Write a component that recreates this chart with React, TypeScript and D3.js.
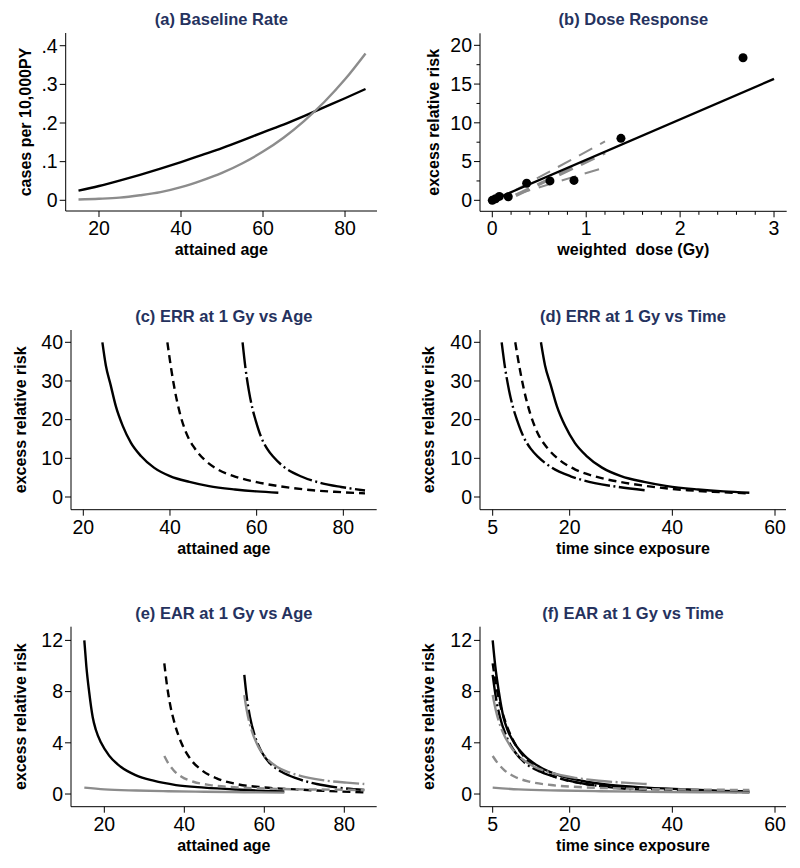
import React from "react";
import * as d3 from "d3";

const NAVY = "#25325e";
const GRAY = "#8c8c8c";
const BLACK = "#000";
const SHORTDASH = "8,5";
const DASHDOT = "26,3.5,2,3.5";
const LONGDASH = "15,9";
const FONT = "'Liberation Sans', Arial, sans-serif";

// (a) baseline rate by attained age
const ageA = [15, 20, 25, 30, 35, 40, 45, 50, 55, 60, 65, 70, 75, 80, 85];
const rateBlack = [0.025, 0.037, 0.051, 0.066, 0.082, 0.099, 0.117, 0.135, 0.155, 0.176, 0.196, 0.218, 0.241, 0.264, 0.288];
const rateGray = [0.002, 0.004, 0.007, 0.013, 0.021, 0.034, 0.051, 0.071, 0.096, 0.126, 0.162, 0.205, 0.255, 0.313, 0.38];

// (b) dose response
const doseObs = [0.0, 0.035, 0.075, 0.17, 0.366, 0.614, 0.87, 1.37, 2.67];
const errObs = [0.0, 0.2, 0.5, 0.46, 2.2, 2.5, 2.57, 8.0, 18.4];
const fitDose = [0, 3];
const fitErr = [0, 15.67];
const ciDose = [0.25, 1.2];
const ciUpper = [1.34, 7.6];
const ciMid = [0.64, 6.14];
const ciLower = [0.76, 4.25];

// exposure ages for solid, dashed, dash-dot curves
const exposureAges = [10, 30, 50];

// ERR at 1 Gy by time since exposure
const errT10 = [14.4, 15.2, 16.3, 17.5, 19.1, 21, 23.3, 26.3, 30, 34.5, 39, 45, 50, 55];
const err10 = [40, 34, 29, 23.5, 18.4, 14, 10.6, 7.6, 5.4, 3.9, 2.8, 1.95, 1.45, 1.1];
const errT30 = [9.4, 10.2, 11.1, 12.3, 13.7, 15.7, 18, 21.1, 25, 30, 35.5, 43, 48, 55];
const err30 = [40, 33.7, 27.7, 21.6, 16.7, 12.6, 9.6, 7.1, 5.3, 3.85, 2.75, 1.75, 1.35, 0.95];
const errT50 = [6.75, 7.4, 8.2, 9.0, 9.8, 11, 12.4, 14, 16.5, 20.3, 24.9, 29.5, 35];
const err50 = [40, 33.5, 27.5, 23.0, 19.7, 15.6, 12.5, 10.2, 7.6, 5.3, 3.6, 2.6, 1.7];

// EAR at 1 Gy by time since exposure (black)
const earT10 = [5, 5.5, 6.2, 7.1, 7.9, 9.2, 11.2, 14.1, 17.8, 22.3, 27.9, 35, 43, 50, 55];
const ear10 = [12.0, 10.0, 8.0, 6.0, 5.0, 4.0, 3.0, 2.13, 1.48, 1.04, 0.7, 0.5, 0.35, 0.25, 0.2];
const earT30 = [5, 5.6, 6.4, 7.7, 9.3, 11.4, 14.3, 18.1, 23.1, 29.75, 38.1, 46.4, 55];
const ear30 = [10.2, 8.65, 7.08, 5.39, 3.96, 2.79, 1.875, 1.22, 0.78, 0.52, 0.36, 0.23, 0.13];
const earT50 = [5, 5.6, 6.4, 7.7, 9.3, 11.4, 14.3, 18.1, 23.1, 28.1, 35];
const ear50 = [9.3, 7.6, 6.04, 4.48, 3.3, 2.4, 1.74, 1.22, 0.78, 0.52, 0.31];

// EAR at 1 Gy by time since exposure (gray)
const earGT10 = [5, 10, 18, 26, 35, 45, 55];
const earG10 = [0.5, 0.36, 0.27, 0.22, 0.18, 0.14, 0.11];
const earGT30 = [5, 6, 7.25, 9.3, 12.25, 16.4, 23.1, 31.4, 39.75, 48.1, 55];
const earG30 = [2.97, 2.4, 1.875, 1.35, 0.96, 0.7, 0.52, 0.42, 0.36, 0.34, 0.31];
const earGT50 = [5, 5.6, 6.8, 8.5, 10.6, 13.1, 16.4, 20.6, 25.6, 30.6, 35];
const earG50 = [7.73, 6.56, 5.0, 3.7, 2.79, 2.13, 1.67, 1.3, 1.04, 0.89, 0.78];

// tick values and labels
const ageTicks = [20, 40, 60, 80];
const timeTicks = [5, 20, 40, 60];
const rateTicks = [0, 0.1, 0.2, 0.3, 0.4];
const rateLabels = ["0", ".1", ".2", ".3", ".4"];
const doseTicks = [0, 1, 2, 3];
const doseMinor = [0.2, 0.4, 0.6, 0.8, 1.2, 1.4, 1.6, 1.8, 2.2, 2.4, 2.6, 2.8];
const drTicks = [0, 5, 10, 15, 20];
const drMinor = [2.5, 7.5, 12.5, 17.5];
const errTicks = [0, 10, 20, 30, 40];
const earTicks = [0, 4, 8, 12];

type Scale = d3.ScaleLinear<number, number>;

interface PanelCfg {
  title: string;
  xTitle: string;
  yTitle: string;
  left: number;
  right: number;
  top: number;
  bottom: number;
  xDomain: [number, number];
  yDomain: [number, number];
  xTicks: number[];
  yTicks: number[];
  yLabels?: string[];
  xMinor?: number[];
  yMinor?: number[];
  yTitleOffset: number;
}

const zip = (xs: number[], ys: number[], shift = 0): [number, number][] =>
  xs.map((v, i) => [v + shift, ys[i]]);

function Curve({ pts, x, y, color, dash, width = 2.4 }: {
  pts: [number, number][]; x: Scale; y: Scale; color: string; dash?: string; width?: number;
}) {
  const line = d3.line<[number, number]>()
    .x((d) => x(d[0]))
    .y((d) => y(d[1]))
    .curve(d3.curveMonotoneX);
  return <path d={line(pts) || ""} fill="none" stroke={color} strokeWidth={width}
    strokeDasharray={dash} strokeLinecap="butt" />;
}

function Panel({ cfg, children }: { cfg: PanelCfg; children: (x: Scale, y: Scale) => React.ReactNode }) {
  const x = d3.scaleLinear().domain(cfg.xDomain).range([cfg.left, cfg.right]);
  const y = d3.scaleLinear().domain(cfg.yDomain).range([cfg.bottom, cfg.top]);
  const midX = (cfg.left + cfg.right) / 2;
  const midY = (cfg.top + cfg.bottom) / 2;
  return (
    <g>
      <text x={midX} y={cfg.top - 8} textAnchor="middle" fontFamily={FONT} fontWeight="bold"
        fontSize={16.5} fill={NAVY}>{cfg.title}</text>
      {children(x, y)}
      <line x1={cfg.left} x2={cfg.right} y1={cfg.bottom} y2={cfg.bottom} stroke="#000" strokeWidth={1} />
      <line x1={cfg.left} x2={cfg.left} y1={cfg.top} y2={cfg.bottom} stroke="#000" strokeWidth={1} />
      {cfg.xTicks.map((t) => (
        <g key={"xt" + t}>
          <line x1={x(t)} x2={x(t)} y1={cfg.bottom} y2={cfg.bottom + 6} stroke="#000" />
          <text x={x(t)} y={cfg.bottom + 24} textAnchor="middle" fontFamily={FONT} fontSize={19.5}>{t}</text>
        </g>
      ))}
      {(cfg.xMinor || []).map((t) => (
        <line key={"xm" + t} x1={x(t)} x2={x(t)} y1={cfg.bottom} y2={cfg.bottom + 3.5} stroke="#000" />
      ))}
      {cfg.yTicks.map((t, i) => (
        <g key={"yt" + t}>
          <line x1={cfg.left - 6} x2={cfg.left} y1={y(t)} y2={y(t)} stroke="#000" />
          <text x={cfg.left - 8} y={y(t)} dy="0.35em" textAnchor="end" fontFamily={FONT} fontSize={19.5}>
            {cfg.yLabels ? cfg.yLabels[i] : t}
          </text>
        </g>
      ))}
      {(cfg.yMinor || []).map((t) => (
        <line key={"ym" + t} x1={cfg.left - 3.5} x2={cfg.left} y1={y(t)} y2={y(t)} stroke="#000" />
      ))}
      <text x={midX} y={cfg.bottom + 44} textAnchor="middle" fontFamily={FONT} fontWeight="bold"
        fontSize={16} style={{ whiteSpace: "pre" }}>{cfg.xTitle}</text>
      <text transform={`translate(${cfg.left - cfg.yTitleOffset},${midY}) rotate(-90)`} dy="0.35em"
        textAnchor="middle" fontFamily={FONT} fontWeight="bold" fontSize={16}>{cfg.yTitle}</text>
    </g>
  );
}

const panelA: PanelCfg = {
  title: "(a) Baseline Rate", xTitle: "attained age", yTitle: "cases per 10,000PY",
  left: 65.7, right: 377, top: 33, bottom: 211,
  xDomain: [11.88, 87.8], yDomain: [-0.0277, 0.4329],
  xTicks: ageTicks, yTicks: rateTicks, yLabels: rateLabels, yTitleOffset: 40.7,
};
const panelB: PanelCfg = {
  title: "(b) Dose Response", xTitle: "weighted  dose (Gy)", yTitle: "excess relative risk",
  left: 480, right: 786.7, top: 33.3, bottom: 211.3,
  xDomain: [-0.131, 3.135], yDomain: [-1.417, 21.55],
  xTicks: doseTicks, yTicks: drTicks, xMinor: doseMinor, yMinor: drMinor, yTitleOffset: 46.7,
};
const panelC: PanelCfg = {
  title: "(c) ERR at 1 Gy vs Age", xTitle: "attained age", yTitle: "excess relative risk",
  left: 71, right: 376.7, top: 330, bottom: 509.7,
  xDomain: [17.16, 87.7], yDomain: [-3.28, 43.18],
  xTicks: ageTicks, yTicks: errTicks, yTitleOffset: 51,
};
const panelD: PanelCfg = {
  title: "(d) ERR at 1 Gy vs Time", xTitle: "time since exposure", yTitle: "excess relative risk",
  left: 480, right: 786, top: 330, bottom: 509.7,
  xDomain: [2.53, 62.14], yDomain: [-3.28, 43.18],
  xTicks: timeTicks, yTicks: errTicks, yTitleOffset: 51.7,
};
const panelE: PanelCfg = {
  title: "(e) EAR at 1 Gy vs Age", xTitle: "attained age", yTitle: "excess relative risk",
  left: 71, right: 376.7, top: 626.7, bottom: 806.7,
  xDomain: [11.67, 88.1], yDomain: [-0.99, 13.07],
  xTicks: ageTicks, yTicks: earTicks, yTitleOffset: 51,
};
const panelF: PanelCfg = {
  title: "(f) EAR at 1 Gy vs Time", xTitle: "time since exposure", yTitle: "excess relative risk",
  left: 480, right: 786, top: 626.7, bottom: 806.7,
  xDomain: [2.53, 62.14], yDomain: [-0.99, 13.07],
  xTicks: timeTicks, yTicks: earTicks, yTitleOffset: 52,
};

const errSeries = [
  { t: errT10, v: err10, dash: undefined },
  { t: errT30, v: err30, dash: SHORTDASH },
  { t: errT50, v: err50, dash: DASHDOT },
];
const earBlack = [
  { t: earT10, v: ear10, dash: undefined },
  { t: earT30, v: ear30, dash: SHORTDASH },
  { t: earT50, v: ear50, dash: DASHDOT },
];
const earGray = [
  { t: earGT10, v: earG10, dash: undefined },
  { t: earGT30, v: earG30, dash: SHORTDASH },
  { t: earGT50, v: earG50, dash: DASHDOT },
];

export default function App() {
  return (
    <svg width={800} height={868} style={{ position: "absolute", left: 0, top: 0, background: "#fff" }}>
      <rect width={800} height={868} fill="#fff" />
      <Panel cfg={panelA}>
        {(x, y) => (
          <g>
            <Curve pts={zip(ageA, rateBlack)} x={x} y={y} color={BLACK} />
            <Curve pts={zip(ageA, rateGray)} x={x} y={y} color={GRAY} />
          </g>
        )}
      </Panel>
      <Panel cfg={panelB}>
        {(x, y) => (
          <g>
            <Curve pts={zip(ciDose, ciUpper)} x={x} y={y} color={GRAY} dash={LONGDASH} width={2} />
            <Curve pts={zip(ciDose, ciLower)} x={x} y={y} color={GRAY} dash={LONGDASH} width={2} />
            <Curve pts={zip(ciDose, ciMid)} x={x} y={y} color={GRAY} dash={LONGDASH} width={3.5} />
            <Curve pts={zip(fitDose, fitErr)} x={x} y={y} color={BLACK} />
            {doseObs.map((d, i) => (
              <circle key={i} cx={x(d)} cy={y(errObs[i])} r={4.5} fill={BLACK} />
            ))}
          </g>
        )}
      </Panel>
      <Panel cfg={panelC}>
        {(x, y) => (
          <g>
            {errSeries.map((s, i) => (
              <Curve key={i} pts={zip(s.t, s.v, exposureAges[i])} x={x} y={y} color={BLACK} dash={s.dash} />
            ))}
          </g>
        )}
      </Panel>
      <Panel cfg={panelD}>
        {(x, y) => (
          <g>
            {errSeries.map((s, i) => (
              <Curve key={i} pts={zip(s.t, s.v)} x={x} y={y} color={BLACK} dash={s.dash} />
            ))}
          </g>
        )}
      </Panel>
      <Panel cfg={panelE}>
        {(x, y) => (
          <g>
            {earBlack.map((s, i) => (
              <Curve key={"b" + i} pts={zip(s.t, s.v, exposureAges[i])} x={x} y={y} color={BLACK} dash={s.dash} />
            ))}
            {earGray.map((s, i) => (
              <Curve key={"g" + i} pts={zip(s.t, s.v, exposureAges[i])} x={x} y={y} color={GRAY} dash={s.dash} />
            ))}
          </g>
        )}
      </Panel>
      <Panel cfg={panelF}>
        {(x, y) => (
          <g>
            {earBlack.map((s, i) => (
              <Curve key={"b" + i} pts={zip(s.t, s.v)} x={x} y={y} color={BLACK} dash={s.dash} />
            ))}
            {earGray.map((s, i) => (
              <Curve key={"g" + i} pts={zip(s.t, s.v)} x={x} y={y} color={GRAY} dash={s.dash} />
            ))}
          </g>
        )}
      </Panel>
    </svg>
  );
}
